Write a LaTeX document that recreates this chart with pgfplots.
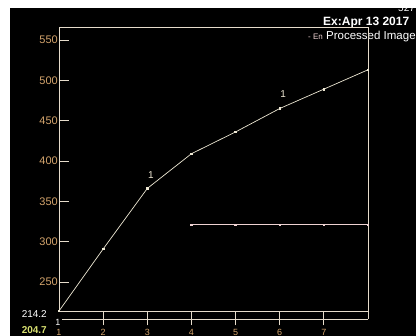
\documentclass[border=0pt]{standalone}
\usepackage{pgfplots}
\pgfplotsset{compat=1.18}
\usepackage{fontspec}
\setmainfont{Liberation Sans}
\definecolor{frame}{HTML}{E6DCCB}
\definecolor{ticklab}{HTML}{D4A46C}
\definecolor{lineA}{HTML}{EEE8D4}
\definecolor{lineB}{HTML}{EED2D2}
\definecolor{yg}{HTML}{D8E070}
\begin{document}
\begin{tikzpicture}[x=1pt,y=1pt]
\useasboundingbox (0,0) rectangle (416,336);
\fill[white] (0,0) rectangle (416,336);
\fill[black] (10,0) rectangle (416,336);
% top right text
\node[anchor=base west, text=white, font=\fontsize{10}{10}\selectfont, inner sep=0pt] at (398,324) {527};
\fill[white] (0,328) rectangle (416,336);
\node[anchor=base west, text=white, font=\bfseries\fontsize{12}{12}\selectfont, inner sep=0pt] at (323,310) {Ex:Apr 13 2017};
\node[anchor=base west, text=lineB, font=\fontsize{8}{8}\selectfont, inner sep=0pt] at (308,296) {- En};
\node[anchor=base west, text=white, font=\fontsize{11.5}{11.5}\selectfont, inner sep=0pt] at (326,296) {Processed Image};
% left labels
\node[anchor=east, text=white, font=\fontsize{10}{10}\selectfont, inner sep=0pt] at (47,22) {214.2};
\node[anchor=east, text=yg, font=\bfseries\fontsize{10}{10}\selectfont, inner sep=0pt] at (47,6) {204.7};
\node[text=white, font=\fontsize{9}{9}\selectfont, inner sep=0pt] at (58,14) {1};
\begin{axis}[
  at={(59pt,25pt)}, anchor=south west,
  scale only axis, width=309pt, height=284pt,
  xmin=1, xmax=8, ymin=214.2, ymax=566,
  axis line style={frame, line width=0.8pt},
  xtick=\empty,
  ytick={250,300,...,550},
  ytick pos=left, tick align=inside,
  major tick length=10pt,
  tick style={frame, line width=0.8pt},
  /pgf/number format/assume math mode=true,
  yticklabel style={text=ticklab, font=\fontsize{11}{11}\selectfont, inner sep=1pt},
  clip=false,
]
\addplot[lineA, line width=0.7pt, mark=square*, mark size=0.8pt, mark options={fill=lineA, draw=lineA}]
  coordinates {(1,214.2) (2,291) (3,366) (4,409) (5,436) (6,465) (7,489) (8,513)};
\addplot[lineB, line width=0.7pt, mark=square*, mark size=0.8pt, mark options={fill=lineB, draw=lineB}]
  coordinates {(4,321) (5,321) (6,321) (7,321) (8,321)};
\node[text=lineA, font=\fontsize{10}{10}\selectfont] at (axis cs:3.08,383) {1};
\node[text=lineA, font=\fontsize{10}{10}\selectfont] at (axis cs:6.08,483) {1};
\end{axis}
\begin{axis}[
  at={(62pt,17pt)}, anchor=south west,
  scale only axis, width=306pt, height=8pt,
  xmin=1.068, xmax=8, ymin=0, ymax=1,
  axis x line*=bottom, axis y line=none,
  axis line style={frame, line width=0.8pt},
  xtick={2,3,4,5,6,7},
  xticklabels={},
  tick align=center, major tick length=13pt,
  tick style={frame, line width=0.8pt},
  clip=false,
]
\end{axis}
\begin{axis}[
  at={(59pt,0pt)}, anchor=south west,
  scale only axis, width=309pt, height=8pt,
  xmin=1, xmax=8, ymin=0, ymax=1,
  axis lines=none,
  xtick={1,...,7},
  clip=false,
]
\foreach \k in {1,...,7} {
  \edef\temp{\noexpand\node[text=ticklab, font=\noexpand\fontsize{9}{9}\noexpand\selectfont, anchor=base, inner sep=0pt] at (axis cs:\k,0.1) {\k};}
  \temp
}
\end{axis}
\draw[frame, line width=0.8pt] (368,17) -- (368,25);
\end{tikzpicture}
\end{document}
